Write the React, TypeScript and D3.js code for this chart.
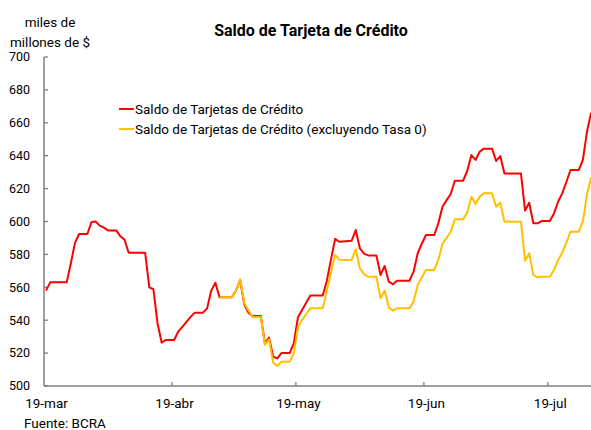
import React from 'react';
import * as d3 from 'd3';

// vertices of the daily series (weekend/holiday flats kept as end points)
const dates = [
  '2020-03-19', '2020-03-20', '2020-03-24', '2020-03-25', '2020-03-26', '2020-03-27', '2020-03-29',
  '2020-03-30', '2020-03-31', '2020-04-01', '2020-04-02', '2020-04-03', '2020-04-05', '2020-04-06',
  '2020-04-07', '2020-04-08', '2020-04-12', '2020-04-13', '2020-04-14', '2020-04-15', '2020-04-16',
  '2020-04-17', '2020-04-19', '2020-04-20', '2020-04-21', '2020-04-22', '2020-04-23', '2020-04-24',
  '2020-04-26', '2020-04-27', '2020-04-28', '2020-04-29', '2020-04-30', '2020-05-03', '2020-05-04',
  '2020-05-05', '2020-05-06', '2020-05-07', '2020-05-08', '2020-05-10', '2020-05-11', '2020-05-12',
  '2020-05-13', '2020-05-14', '2020-05-15', '2020-05-17', '2020-05-18', '2020-05-19', '2020-05-20',
  '2020-05-22', '2020-05-25', '2020-05-26', '2020-05-27', '2020-05-28', '2020-05-29', '2020-06-01',
  '2020-06-02', '2020-06-03', '2020-06-04', '2020-06-05', '2020-06-07', '2020-06-08', '2020-06-09',
  '2020-06-10', '2020-06-11', '2020-06-12', '2020-06-15', '2020-06-16', '2020-06-17', '2020-06-18',
  '2020-06-19', '2020-06-21', '2020-06-22', '2020-06-23', '2020-06-24', '2020-06-25', '2020-06-26',
  '2020-06-28', '2020-06-29', '2020-06-30', '2020-07-01', '2020-07-02', '2020-07-03', '2020-07-05',
  '2020-07-06', '2020-07-07', '2020-07-08', '2020-07-12', '2020-07-13', '2020-07-14', '2020-07-15',
  '2020-07-16', '2020-07-17', '2020-07-19', '2020-07-20', '2020-07-21', '2020-07-22', '2020-07-23',
  '2020-07-24', '2020-07-26', '2020-07-27', '2020-07-28', '2020-07-29',
];

const saldoTotal = [
  558, 563, 563, 574.6, 587, 592.4, 592.4,
  599.7, 600, 597.5, 596.3, 594.6, 594.6, 591,
  589, 581, 581, 560, 558.8, 538, 526.3,
  528, 528, 533, 536, 539, 542, 544.6,
  544.6, 547.2, 558, 562.8, 554, 554, 558,
  564.4, 549.7, 544.6, 542.5, 542.5, 526, 529.4,
  517.8, 516.8, 520, 520, 526, 541.8, 546.2,
  555, 555, 564, 577, 589.4, 587.7, 588.3,
  594.8, 583.6, 580.5, 579.4, 579.4, 567.5, 573,
  563.4, 561.8, 564, 564, 569.5, 580.7, 586.5,
  591.8, 591.8, 598.9, 609, 613, 616.7, 624.8,
  624.8, 630.7, 640.4, 637.4, 642.4, 644.3, 644.3,
  636.8, 639.8, 629.2, 629.2, 606.6, 611.4, 598.9,
  598.9, 600.3, 600.3, 604.9, 612, 617.1, 624,
  631.3, 631.3, 637.4, 654.6, 666.2,
];

const saldoSinTasa0 = [
  null, null, null, null, null, null, null,
  null, null, null, null, null, null, null,
  null, null, null, null, null, null, null,
  null, null, null, null, null, null, null,
  null, null, null, null, 554, 554, 558,
  564.9, 550.5, 546, 542, 542, 525, 528.4,
  514.2, 512.2, 514.8, 514.8, 519.9, 535.7, 540.1,
  547.2, 547.2, 558, 569, 579.7, 576.8, 576.6,
  583.1, 571.6, 568, 566.4, 566.4, 553.3, 558,
  547.8, 545.8, 547.2, 547.2, 551.2, 561.4, 566,
  570.5, 570.5, 576.6, 586.5, 590, 593.8, 601.3,
  601.3, 605.4, 615.1, 610.6, 615.1, 617.1, 617.1,
  609, 611.4, 599.9, 599.9, 576.2, 580.7, 567.5,
  566.1, 566.4, 566.4, 570.5, 576.6, 581, 587,
  593.8, 593.8, 599.9, 616.7, 626.8,
];

const yTicks = [500, 520, 540, 560, 580, 600, 620, 640, 660, 680, 700];
const xTickDates = ['2020-03-19', '2020-04-19', '2020-05-19', '2020-06-19', '2020-07-19'];
const xTickLabels = ['19-mar', '19-abr', '19-may', '19-jun', '19-jul'];

const seriesNames = [
  'Saldo de Tarjetas de Crédito',
  'Saldo de Tarjetas de Crédito (excluyendo Tasa 0)',
];
const seriesColors = ['#ff0000', '#ffc000'];

const W = 591;
const H = 430;
const FONT = 'Roboto, Arial, sans-serif';

const parse = d3.utcParse('%Y-%m-%d');

const App: React.FC = () => {
  const x = d3
    .scaleUtc()
    .domain([parse('2020-03-19')!, parse('2020-07-30')!])
    .range([44, 593.2]);
  const y = d3.scaleLinear().domain([500, 700]).range([386, 57]);

  // points sit in the middle of their day
  const mid = (s: string) => x(d3.utcHour.offset(parse(s)!, 12));

  const line = d3
    .line<[string, number | null]>()
    .defined(d => d[1] !== null)
    .x(d => mid(d[0]))
    .y(d => y(d[1] as number));

  const pts1 = dates.map((d, i) => [d, saldoTotal[i]] as [string, number | null]);
  const pts2 = dates.map((d, i) => [d, saldoSinTasa0[i]] as [string, number | null]);

  return (
    <svg
      width={W}
      height={H}
      style={{ position: 'absolute', left: 0, top: 0, background: '#fff' }}
      fontFamily={FONT}
    >
      <rect width={W} height={H} fill="#fff" />
      <text x={311} y={36} textAnchor="middle" fontSize={16} fontWeight="bold" fill="#000">
        Saldo de Tarjeta de Crédito
      </text>
      <text x={50} y={27} textAnchor="middle" fontSize={13.5} fill="#000">miles de</text>
      <text x={50} y={47} textAnchor="middle" fontSize={13.5} fill="#000">millones de $</text>

      {/* y axis */}
      <line x1={44} x2={44} y1={57} y2={386} stroke="#7f7f7f" strokeWidth={1.5} />
      {yTicks.map(t => (
        <g key={t}>
          <line x1={44} x2={48} y1={y(t)} y2={y(t)} stroke="#7f7f7f" strokeWidth={1.3} />
          <text x={30} y={y(t) + 4.3} textAnchor="end" fontSize={12.5} fill="#000">{t}</text>
        </g>
      ))}

      {/* x axis */}
      <line x1={44} x2={591} y1={386} y2={386} stroke="#7f7f7f" strokeWidth={1.5} />
      {xTickDates.map((d, i) => {
        const px = x(parse(d)!);
        return (
          <g key={d}>
            {i > 0 && <line x1={px} x2={px} y1={386} y2={382} stroke="#7f7f7f" strokeWidth={1.3} />}
            <text x={px + 2.5} y={407.5} textAnchor="middle" fontSize={13.5} fill="#000">
              {xTickLabels[i]}
            </text>
          </g>
        );
      })}

      <path d={line(pts1) || ''} fill="none" stroke={seriesColors[0]} strokeWidth={2} strokeLinejoin="round" />
      <path d={line(pts2) || ''} fill="none" stroke={seriesColors[1]} strokeWidth={2} strokeLinejoin="round" />

      {/* legend */}
      {seriesNames.map((n, i) => (
        <g key={n} transform={`translate(119,${109 + i * 20})`}>
          <line x1={0} x2={15} y1={0} y2={0} stroke={seriesColors[i]} strokeWidth={2} />
          <text x={16} y={4.7} fontSize={13.5} fill="#000">{n}</text>
        </g>
      ))}

      <text x={24} y={428} fontSize={13.5} fill="#000">Fuente: BCRA</text>
    </svg>
  );
};

export default App;
